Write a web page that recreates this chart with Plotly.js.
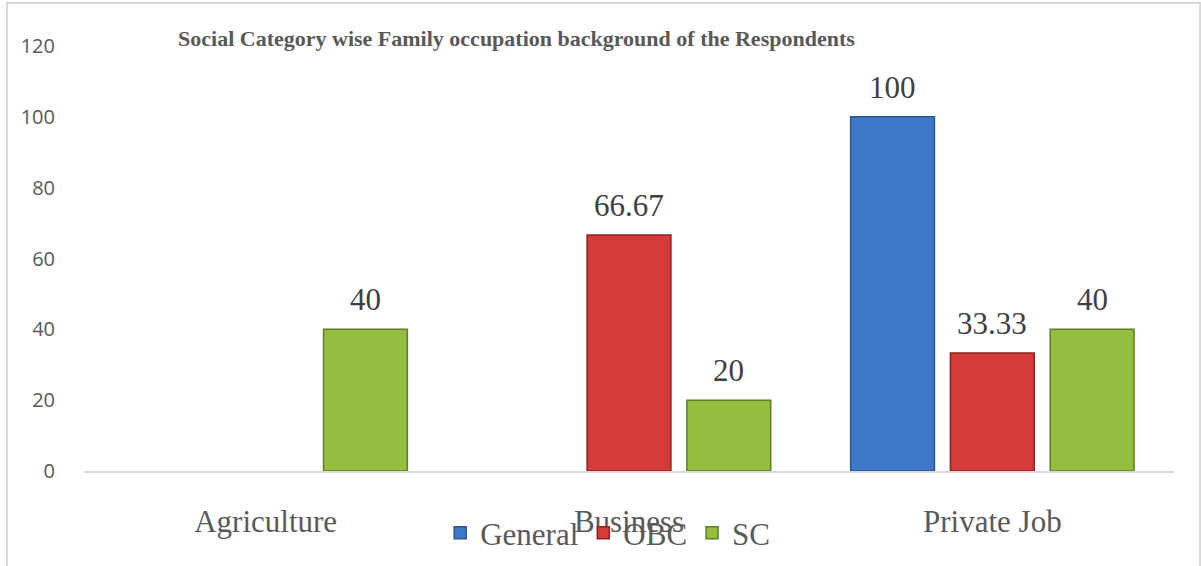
<!DOCTYPE html>
<html>
<head>
<meta charset="utf-8">
<script src="https://cdn.plot.ly/plotly-3.0.1.min.js"></script>
<style>html,body{margin:0;padding:0;background:#fff;}#chart{width:1201px;height:566px;}</style>
</head>
<body>
<div id="chart"></div>
<script>
const categories = ["Agriculture", "Business", "Private Job"];
const seriesNames = ["General", "OBC", "SC"];
const generalValues = [null, null, 100];
const obcValues = [null, 66.67, 33.33];
const scValues = [40, 20, 40];
const generalLabels = ["", "", "100"];
const obcLabels = ["", "66.67", "33.33"];
const scLabels = ["40", "20", "40"];
const yTicks = [0, 20, 40, 60, 80, 100, 120];

const fills = ["#4078c8", "#d33a3a", "#94bf3e"];
const edges = ["#2b5794", "#8f2222", "#5f7f26"];
const values = [generalValues, obcValues, scValues];
const labels = [generalLabels, obcLabels, scLabels];

const W = 1201, H = 566;
const margin = {l: 84, r: 27, t: 46, b: 95};
const bargap = 0.176;
const plotW = W - margin.l - margin.r;
const catW = plotW / categories.length;
const slotW = catW * (1 - bargap) / seriesNames.length;

const traces = seriesNames.map((name, i) => ({
  type: "bar",
  name: name,
  x: categories,
  y: values[i],
  marker: {color: fills[i], line: {color: edges[i], width: 1.5}},
  hoverinfo: "x+y+name"
}));

const annotations = [];
seriesNames.forEach((name, i) => {
  categories.forEach((cat, j) => {
    if (values[i][j] === null || labels[i][j] === "") return;
    annotations.push({
      x: cat, y: values[i][j], xref: "x", yref: "y",
      text: labels[i][j], showarrow: false,
      xanchor: "center", yanchor: "bottom",
      xshift: (i - (seriesNames.length - 1) / 2) * slotW,
      yshift: 10,
      font: {family: "Liberation Serif, Times New Roman, serif", size: 31, color: "#404040"}
    });
  });
});

const layout = {
  width: W,
  height: H,
  margin: margin,
  paper_bgcolor: "#ffffff",
  plot_bgcolor: "#ffffff",
  barmode: "group",
  bargap: bargap,
  bargroupgap: 0.16,
  showlegend: true,
  title: {
    text: "<b>Social Category wise Family occupation background of the Respondents</b>",
    font: {family: "Liberation Serif, Times New Roman, serif", size: 22, color: "#595959"},
    x: 0.43, xref: "container", xanchor: "center",
    y: 0.932, yref: "container", yanchor: "middle"
  },
  xaxis: {
    type: "category",
    showgrid: false,
    zeroline: false,
    showline: true,
    linecolor: "#d9d9d9",
    linewidth: 2,
    ticks: "",
    ticklabelstandoff: 22,
    tickfont: {family: "Liberation Serif, Times New Roman, serif", size: 31, color: "#595959"},
    fixedrange: true
  },
  yaxis: {
    range: [0, 120],
    tickvals: yTicks,
    ticktext: yTicks.map(String),
    showgrid: false,
    zeroline: false,
    showline: false,
    ticks: "",
    ticklabelstandoff: 28,
    tickfont: {family: "Open Sans, Noto Sans, sans-serif", size: 20, color: "#595959"},
    fixedrange: true
  },
  legend: {
    orientation: "h",
    xref: "container", x: 0.506, xanchor: "center",
    yref: "container", y: 0.058, yanchor: "middle",
    font: {family: "Liberation Serif, Times New Roman, serif", size: 31, color: "#595959"},
    bgcolor: "rgba(0,0,0,0)",
    itemclick: false,
    itemdoubleclick: false,
    traceorder: "normal"
  },
  annotations: annotations,
  shapes: [{
    type: "rect", xref: "paper", yref: "paper",
    x0: -0.0706, x1: 1.0239, y0: -0.25, y1: 1.101,
    line: {color: "#d9d9d9", width: 2}, fillcolor: "rgba(0,0,0,0)", layer: "below"
  }]
};

Plotly.newPlot("chart", traces, layout, {displayModeBar: false, staticPlot: true});
</script>
</body>
</html>
